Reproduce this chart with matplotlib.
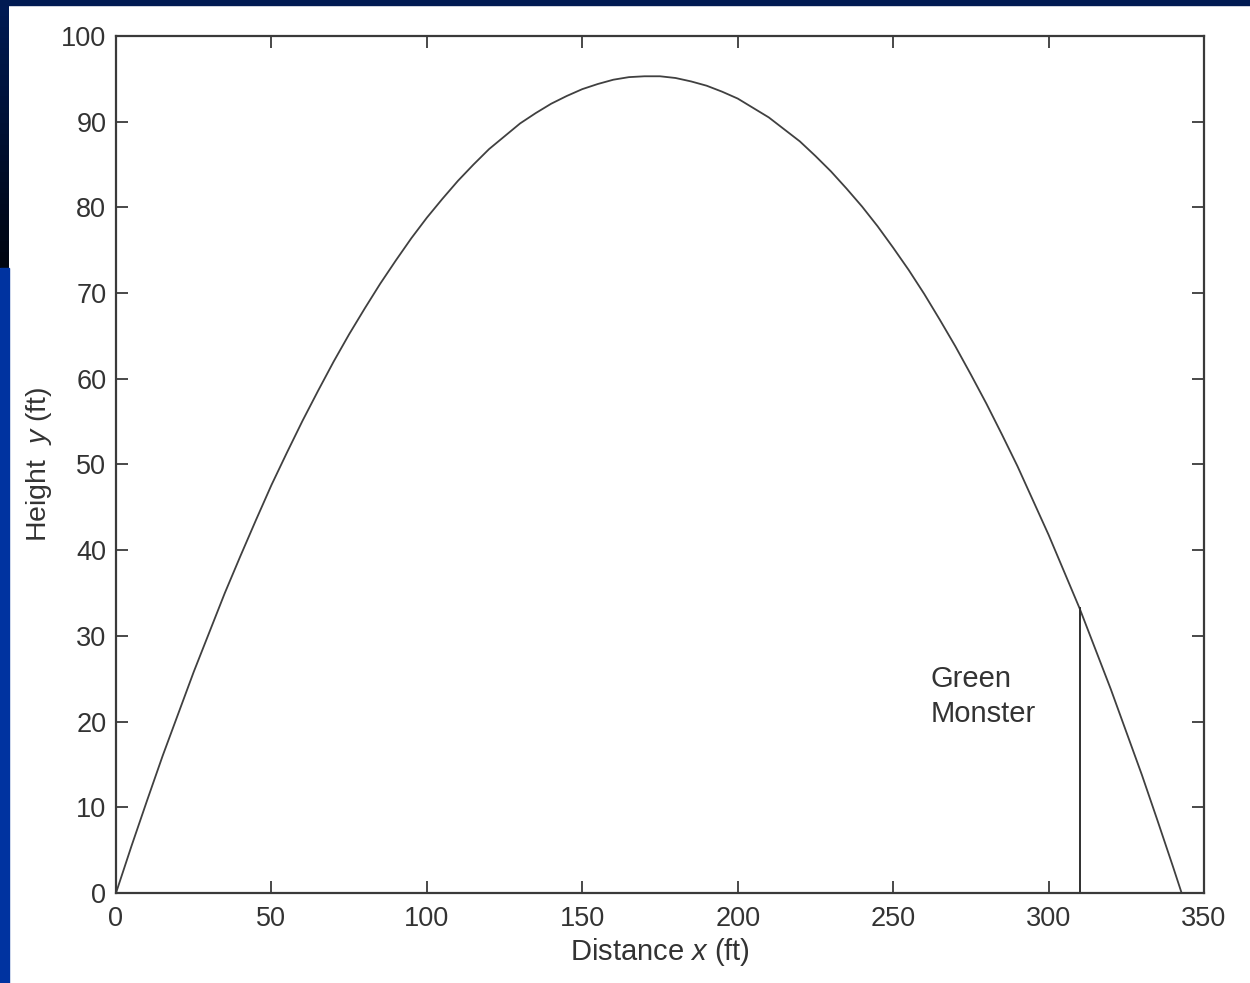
import matplotlib
matplotlib.use("Agg")
import matplotlib.pyplot as plt
import numpy as np
from matplotlib.patches import Rectangle

plt.rcParams["font.family"] = ["Liberation Sans", "DejaVu Sans"]
plt.rcParams["mathtext.fontset"] = "custom"
plt.rcParams["mathtext.it"] = "Liberation Sans:italic"
plt.rcParams["mathtext.rm"] = "Liberation Sans"

# trajectory (ft), every 5 ft
distance = [0, 5, 10, 15, 20, 25, 30, 35, 40, 45, 50, 55, 60, 65, 70, 75, 80, 85, 90,
            95, 100, 105, 110, 115, 120, 125, 130, 135, 140, 145, 150, 155, 160, 165,
            170, 175, 180, 185, 190, 195, 200, 205, 210, 215, 220, 225, 230, 235, 240,
            245, 250, 255, 260, 265, 270, 275, 280, 285, 290, 295, 300, 305, 310, 315,
            320, 325, 330, 335, 340, 342.8]
height = [0, 5.5, 10.8, 16.0, 20.9, 25.8, 30.4, 35.0, 39.3, 43.5, 47.6, 51.4, 55.1,
          58.6, 62.0, 65.2, 68.2, 71.1, 73.8, 76.4, 78.8, 81.0, 83.1, 85.0, 86.8, 88.3,
          89.8, 91.0, 92.1, 93.0, 93.8, 94.4, 94.9, 95.2, 95.3, 95.3, 95.1, 94.7, 94.2,
          93.5, 92.7, 91.6, 90.5, 89.1, 87.7, 86.0, 84.2, 82.2, 80.1, 77.8, 75.3, 72.7,
          69.9, 66.9, 63.8, 60.5, 57.1, 53.5, 49.8, 45.8, 41.8, 37.5, 33.2, 28.5, 23.8,
          18.8, 13.8, 8.5, 3.1, 0]

wall_x = 310
wall_height = 33.3
wall_label = "Green\nMonster"

xticks = [0, 50, 100, 150, 200, 250, 300, 350]
yticks = [0, 10, 20, 30, 40, 50, 60, 70, 80, 90, 100]

fig = plt.figure(figsize=(12.5, 9.83), dpi=100)
fig.patch.set_facecolor("white")

# slide frame: top strip and left strip
fig.patches.append(Rectangle((0, 1 - 5 / 983), 1, 5 / 983, transform=fig.transFigure,
                             color="#001a52", zorder=0))
fig.patches.append(Rectangle((0, 0), 8.5 / 1250, 1 - 268 / 983, transform=fig.transFigure,
                             color="#0033a0", zorder=0))
grad_ax = fig.add_axes([0, 1 - 268 / 983, 8.5 / 1250, 268 / 983])
grad = np.linspace(0, 1, 50).reshape(-1, 1)
grad_ax.imshow(grad, aspect="auto", cmap=matplotlib.colors.LinearSegmentedColormap.from_list(
    "navy", ["#001b55", "#000510"]))
grad_ax.axis("off")

ax = fig.add_axes([116 / 1250, 90 / 983, 1088 / 1250, 857 / 983])
edge = "#3a3a3a"
ax.plot(distance, height, color="#404040", linewidth=1.3, solid_joinstyle="round")
ax.plot([wall_x, wall_x], [0, wall_height], color="#303030", linewidth=1.4)
ax.text(262, 26.6, wall_label, fontsize=21, color="#333333", va="top", ha="left",
        linespacing=1.3)

ax.set_xlim(0, 350)
ax.set_ylim(0, 100)
ax.set_xticks(xticks)
ax.set_yticks(yticks)
ax.tick_params(direction="in", top=True, right=True, length=8.5, width=1.3,
               color=edge, labelsize=19.5, labelcolor="#333333")
ax.tick_params(axis="x", pad=9)
ax.tick_params(axis="y", pad=7)
for s in ax.spines.values():
    s.set_color(edge)
    s.set_linewidth(1.6)

ax.set_xlabel("Distance $\\mathit{x}$ (ft)", fontsize=21, color="#333333", labelpad=3)
ax.set_ylabel("Height  $\\mathit{y}$ (ft)", fontsize=20.5, color="#333333", labelpad=5)

fig.savefig("out.png", dpi=100)
